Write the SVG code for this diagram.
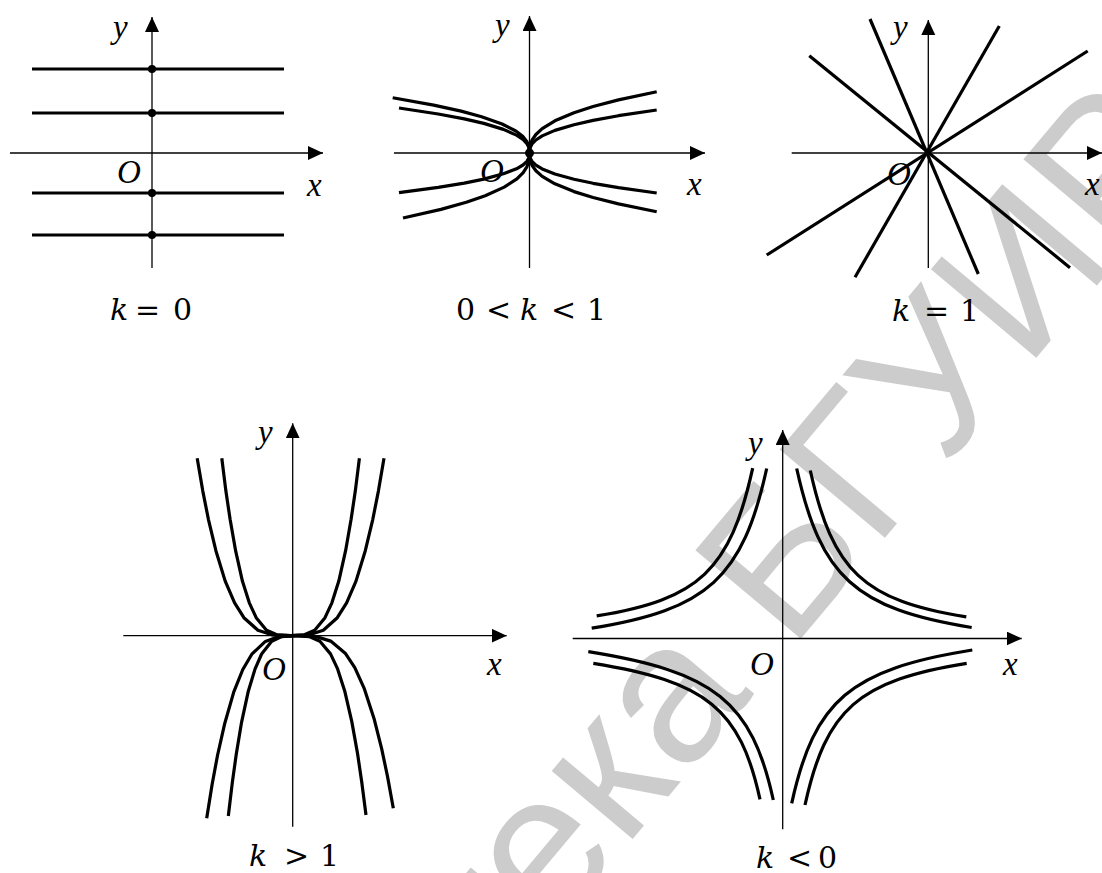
<svg xmlns="http://www.w3.org/2000/svg" width="1102" height="873" viewBox="0 0 1102 873">
<style>
.ax{stroke:#000;stroke-width:1.3;fill:none}
.th{stroke:#000;stroke-width:3.2;fill:none;stroke-linejoin:round}
.cap{font-family:"DejaVu Serif","Liberation Serif",serif;font-size:30px}
.lab{font-family:"Liberation Serif","Times New Roman",serif;font-style:italic;font-size:33px}
</style>
<defs>
<marker id="ah" markerUnits="userSpaceOnUse" markerWidth="16" markerHeight="15" refX="15" refY="7" orient="auto" viewBox="0 0 16 15"><path d="M0,0 L15,7 L0,14 z" fill="#000"/></marker>
</defs>
<rect width="1102" height="873" fill="#fff"/>
<text font-family="Liberation Sans, Arial, sans-serif" font-size="200" fill="#cccccc" transform="translate(1204,158) rotate(-50)" text-anchor="end">Библиотека БГУИР</text>

<g fill="#000">
<g id="panel-k0">
<line class="ax" x1="10" y1="153" x2="323" y2="153" marker-end="url(#ah)"/>
<line class="ax" x1="152" y1="268" x2="152" y2="17" marker-end="url(#ah)"/>
<g class="th">
<line x1="32" y1="69" x2="284" y2="69"/>
<line x1="32" y1="113" x2="284" y2="113"/>
<line x1="32" y1="193" x2="284" y2="193"/>
<line x1="32" y1="235" x2="284" y2="235"/>
</g>
<circle cx="152" cy="69" r="4"/><circle cx="152" cy="113" r="4"/><circle cx="152" cy="193" r="4"/><circle cx="152" cy="235" r="4"/>
<text class="lab" x="113" y="38">y</text>
<text class="lab" x="117" y="183">O</text>
<text class="lab" x="307" y="196">x</text>
<text class="cap" y="320"><tspan font-style="italic" x="110">k</tspan><tspan x="135">=</tspan><tspan x="173">0</tspan></text>
</g>

<g id="panel-k01">
<line class="ax" x1="394" y1="153" x2="705" y2="153" marker-end="url(#ah)"/>
<line class="ax" x1="529.5" y1="268" x2="529.5" y2="16" marker-end="url(#ah)"/>
<g class="th">
<path d="M529.5,153 L530.1,145.6 L532,140.2 L535.9,134.5 L542.2,128.6 L554.9,120.8 L574,112.7 L593.1,106.5 L618.5,99.9 L656.7,91.7"/>
<path d="M529.5,153 L530.1,147.8 L532,144 L535.9,140 L542.2,135.9 L554.9,130.4 L574,124.8 L593.1,120.4 L618.5,115.7 L656.7,110"/>
<path d="M529.5,153 L530.1,157.8 L532,161.4 L535.9,165.1 L542.2,168.9 L554.9,174 L574,179.3 L593.1,183.3 L618.5,187.7 L656.7,193"/>
<path d="M529.5,153 L530.1,160 L532,165.3 L535.9,170.7 L542.2,176.4 L554.9,183.8 L574,191.6 L593.1,197.5 L618.5,203.9 L656.7,211.7"/>
<path d="M529.5,153 L528.9,147.6 L526.9,143.6 L523,139.4 L516.5,135.1 L503.4,129.4 L483.8,123.4 L464.3,118.9 L438.2,114 L399,108"/>
<path d="M529.5,153 L528.9,157.8 L526.9,161.3 L523,165 L516.5,168.8 L503.4,173.8 L483.8,179.1 L464.3,183.1 L438.2,187.4 L399,192.7"/>
<path d="M529.5,153 L528.8,146.4 L526.8,141.4 L522.7,136.3 L515.8,131 L502.1,124 L481.6,116.7 L461.1,111.1 L433.7,105.1 L392.7,97.7"/>
<path d="M529.5,153 L528.9,160.8 L527,166.6 L523.2,172.6 L516.9,178.9 L504.2,187.1 L485.2,195.7 L466.3,202.3 L441,209.4 L403,218"/>
</g>
<circle cx="529.5" cy="153" r="4.5"/>
<text class="lab" x="495" y="36">y</text>
<text class="lab" x="480" y="182">O</text>
<text class="lab" x="687" y="195">x</text>
<text class="cap" y="320"><tspan x="456">0</tspan><tspan x="486">&lt;</tspan><tspan font-style="italic" x="520">k</tspan><tspan x="551">&lt;</tspan><tspan x="587">1</tspan></text>
</g>

<g id="panel-k1">
<line class="ax" x1="791.7" y1="153" x2="1102" y2="153" marker-end="url(#ah)"/>
<line class="ax" x1="928.3" y1="268" x2="928.3" y2="20" marker-end="url(#ah)"/>
<g class="th">
<line x1="870" y1="19" x2="978.3" y2="274"/>
<line x1="809.3" y1="55.7" x2="1070" y2="267.7"/>
<line x1="999.3" y1="26" x2="855" y2="277.3"/>
<line x1="1087.7" y1="51" x2="766.7" y2="255"/>
</g>
<text class="lab" x="893" y="38">y</text>
<text class="lab" x="887" y="185">O</text>
<text class="lab" x="1085" y="195">x</text>
<text class="cap" y="321"><tspan font-style="italic" x="892">k</tspan><tspan x="924">=</tspan><tspan x="960">1</tspan></text>
</g>

<g id="panel-kgt1">
<line class="ax" x1="123.3" y1="635.7" x2="506.7" y2="635.7" marker-end="url(#ah)"/>
<line class="ax" x1="292.7" y1="826.7" x2="292.7" y2="423.3" marker-end="url(#ah)"/>
<g class="th">
<path d="M197.2,458.3 L202.8,491.1 L208.4,519.3 L215.9,550.7 L225.2,581.1 L234.6,602.8 L243.9,617.7 L257.9,630.2 L271.9,634.8 L290.6,635.7 L309.3,634.8 L323.3,630.2 L337.3,617.7 L346.6,602.8 L356,581.1 L365.3,550.7 L372.8,519.3 L378.4,491.1 L384,458.3"/>
<path d="M221.8,458.3 L225.9,491.1 L230.1,519.3 L235.6,550.7 L242.4,581.1 L249.3,602.8 L256.2,617.7 L266.5,630.2 L276.8,634.8 L290.6,635.7 L304.4,634.8 L314.7,630.2 L325,617.7 L331.9,602.8 L338.8,581.1 L345.6,550.7 L351.1,519.3 L355.3,491.1 L359.4,458.3"/>
<path d="M206.7,818.3 L212.1,784.5 L217.5,755.5 L224.8,723.2 L233.8,691.9 L242.8,669.5 L251.8,654.2 L265.4,641.4 L278.9,636.6 L297,635.7 L316.3,636.6 L330.7,641.1 L345.2,653.2 L354.8,667.7 L364.4,688.9 L374,718.4 L381.7,748.9 L387.5,776.4 L393.3,808.3"/>
<path d="M228.3,816 L232.3,782.6 L236.3,754 L241.6,722.1 L248.3,691.2 L255,669.1 L261.6,654 L271.7,641.3 L281.7,636.6 L295,635.7 L309.2,636.6 L319.9,641.3 L330.5,653.9 L337.6,668.9 L344.7,690.9 L351.8,721.6 L357.5,753.3 L361.7,781.8 L366,815"/>
</g>
<text class="lab" x="258" y="443">y</text>
<text class="lab" x="262" y="680">O</text>
<text class="lab" x="487" y="675">x</text>
<text class="cap" y="866"><tspan font-style="italic" x="249">k</tspan><tspan x="284">&gt;</tspan><tspan x="320">1</tspan></text>
</g>

<g id="panel-klt0">
<line class="ax" x1="572.7" y1="638.5" x2="1021.7" y2="638.5" marker-end="url(#ah)"/>
<line class="ax" x1="782.7" y1="829.3" x2="782.7" y2="430" marker-end="url(#ah)"/>
<g class="th" transform="translate(782.7,638.5)">
<path d="M14,-170 C37.9,-61.4 72.9,-29.6 189,-11"/>
<path d="M27.6,-168 C49.8,-67.3 81,-38 183.6,-21.6"/>
<path d="M-16,-170 C-40,-60.8 -75,-28.9 -191,-10.3"/>
<path d="M-30,-170.3 C-52.4,-68.5 -83.6,-39 -186,-22.6"/>
<path d="M9,164.8 C31.6,61.7 67.8,31 189.6,11.5"/>
<path d="M22.3,166.5 C43.4,70.4 75.8,42.1 184,24.8"/>
<path d="M-9.4,161.5 C-31,63.1 -68,33.4 -194.4,13.2"/>
<path d="M-22.7,160.8 C-42.6,70.2 -76,43 -189.4,24.8"/>
</g>
<text class="lab" x="748" y="454">y</text>
<text class="lab" x="750" y="675">O</text>
<text class="lab" x="1003" y="675">x</text>
<text class="cap" y="868"><tspan font-style="italic" x="756">k</tspan><tspan x="787">&lt;</tspan><tspan x="818">0</tspan></text>
</g>
</g>
</svg>
